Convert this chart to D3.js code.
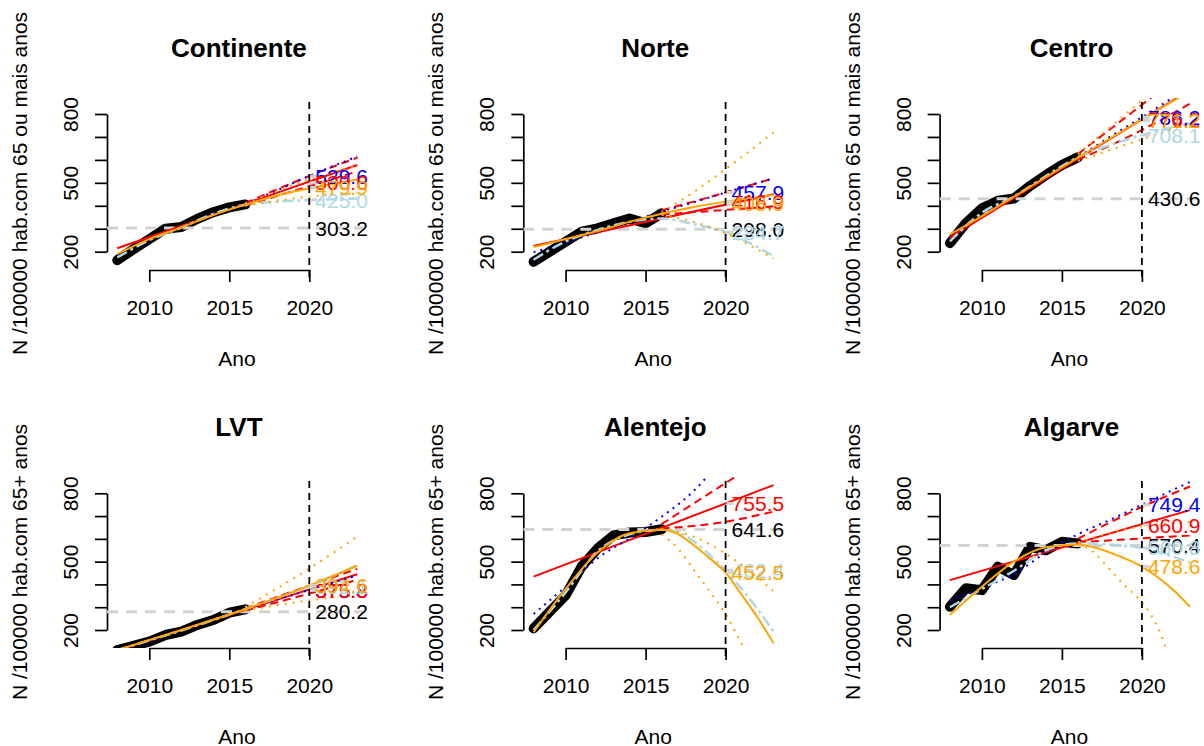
<!DOCTYPE html>
<html><head><meta charset="utf-8">
<script src="https://cdn.jsdelivr.net/npm/d3@7"></script>
<style>
body{margin:0;background:#fff}
text{font-family:"Liberation Sans",Arial,Helvetica,sans-serif;fill:#000}
</style>
</head><body>
<svg id="c" width="1204" height="746"></svg>
<script>
// ---------------- data ----------------
const panelNames = ["Continente", "Norte", "Centro", "LVT", "Alentejo", "Algarve"];
const yLabels = ["N /100000 hab.com 65 ou mais anos", "N /100000 hab.com 65+ anos"];
const xTicks = [2010, 2015, 2020];
const yTicks = [200, 300, 400, 500, 600, 700, 800];
const yTickLabels = [200, 500, 800];
const years = [2008, 2009, 2010, 2011, 2012, 2013, 2014, 2015, 2016];
const observed = [
  [163, 210, 255, 300, 308, 343, 372, 393, 406],
  [156, 200, 243, 287, 302, 324, 345, 324, 367],
  [237, 324, 389, 422, 432, 486, 534, 578, 611],
  [112, 130, 149, 178, 193, 222, 244, 276, 291],
  [207, 280, 352, 478, 558, 615, 628, 630, 642],
  [302, 383, 375, 478, 441, 565, 550, 587, 580]
];
const refValues = [303.2, 298.0, 430.6, 280.2, 641.6, 570.4];
const linearFit = [
  [[2008, 215], [2023, 578]],
  [[2008, 225], [2023, 450]],
  [[2008, 262], [2023, 905]],
  [[2008, 110], [2023, 445]],
  [[2008, 434], [2023, 836]],
  [[2008, 419], [2023, 726]]
];
const linearUpper = [
  [[2016, 412], [2020, 530], [2023, 610]],
  [[2016, 380], [2020, 458], [2023, 520]],
  [[2016, 625], [2020, 840], [2023, 1000]],
  [[2016, 295], [2020, 395], [2023, 468]],
  [[2016, 665], [2020, 845], [2023, 980]],
  [[2016, 600], [2020, 740], [2023, 830]]
];
const linearLower = [
  [[2016, 402], [2020, 485], [2023, 550]],
  [[2016, 362], [2020, 382], [2023, 398]],
  [[2016, 600], [2020, 730], [2023, 845]],
  [[2016, 285], [2020, 360], [2023, 420]],
  [[2016, 645], [2020, 675], [2023, 720]],
  [[2016, 585], [2020, 602], [2023, 615]]
];
const blueModel = [
  [[2008, 185], [2010, 250], [2012, 305], [2014, 365], [2016, 410], [2018, 468], [2020, 530], [2023, 615]],
  [[2008, 198], [2010, 240], [2012, 285], [2014, 330], [2016, 375], [2018, 415], [2020, 458], [2023, 520]],
  [[2008, 250], [2010, 360], [2012, 440], [2014, 525], [2016, 612], [2018, 700], [2020, 786], [2023, 920]],
  [[2008, 108], [2012, 195], [2016, 290], [2020, 376], [2023, 440]],
  [[2008, 270], [2010, 390], [2012, 515], [2014, 602], [2016, 697], [2018, 810], [2019, 885]],
  [[2008, 330], [2010, 385], [2012, 445], [2014, 540], [2016, 620], [2018, 683], [2020, 750], [2023, 850]]
];
const lightblueModel = [
  [[2008, 175], [2010, 250], [2012, 305], [2014, 365], [2016, 405], [2018, 418], [2020, 425], [2023, 432]],
  [[2008, 165], [2010, 245], [2012, 295], [2014, 330], [2016, 345], [2018, 320], [2020, 285], [2023, 180]],
  [[2008, 245], [2010, 370], [2012, 440], [2014, 530], [2016, 612], [2018, 665], [2020, 708], [2023, 760]],
  [[2008, 112], [2012, 198], [2016, 292], [2020, 393], [2023, 485]],
  [[2008, 200], [2010, 365], [2012, 545], [2014, 620], [2016, 640], [2017, 630], [2018, 590], [2019, 530], [2020, 462], [2021, 380], [2022, 292], [2023, 193]],
  [[2008, 300], [2010, 380], [2012, 460], [2014, 550], [2016, 580], [2018, 575], [2020, 560], [2023, 495]]
];
const quadFit = [
  [[2008, 190], [2010, 255], [2012, 305], [2014, 360], [2016, 405], [2018, 445], [2020, 476], [2023, 515]],
  [[2008, 220], [2010, 255], [2012, 290], [2014, 330], [2016, 365], [2018, 395], [2020, 418], [2023, 447]],
  [[2008, 275], [2010, 355], [2012, 440], [2014, 525], [2016, 610], [2018, 693], [2020, 777], [2023, 900]],
  [[2008, 112], [2012, 200], [2016, 292], [2020, 395], [2023, 482]],
  [[2008, 190], [2010, 380], [2012, 540], [2014, 625], [2016, 640], [2017, 622], [2018, 573], [2019, 515], [2020, 452], [2021, 355], [2022, 255], [2023, 142]],
  [[2008, 266], [2010, 390], [2012, 500], [2014, 563], [2016, 575], [2017, 563], [2018, 540], [2020, 478], [2022, 373], [2023, 302]]
];
const quadUpper = [
  [[2016, 410], [2020, 515], [2023, 575]],
  [[2016, 370], [2018, 460], [2020, 560], [2023, 720]],
  [[2016, 625], [2020, 860], [2023, 1040]],
  [[2016, 300], [2020, 470], [2023, 610]],
  [[2016, 645], [2018, 610], [2020, 535], [2022, 430], [2023, 370]],
  [[2016, 585], [2018, 625], [2020, 655], [2023, 675]]
];
const quadLower = [
  [[2016, 400], [2020, 440], [2023, 455]],
  [[2016, 360], [2018, 330], [2020, 280], [2023, 170]],
  [[2016, 595], [2020, 690], [2023, 760]],
  [[2016, 285], [2020, 330], [2023, 355]],
  [[2016, 620], [2017, 560], [2018, 465], [2019, 370], [2020, 270], [2021, 140], [2021.4, 90]],
  [[2016, 580], [2017, 540], [2018, 465], [2019, 390], [2020, 322], [2021, 210], [2021.5, 120]]
];
const labelBlue = ["529.6", "457.9", "786.2", "375.8", null, "749.4"];
const labelRed = ["500.6", "416.9", "776.2", "375.3", "755.5", "660.9"];
const labelLightblue = ["425.0", "284.7", "708.1", "392.1", "462.4", "560.8"];
const labelOrange = ["479.9", "408.9", "771.2", "394.6", "452.5", "478.6"];

// ---------------- drawing ----------------
const svg = d3.select("#c");
const colW = 416.3, rowH = 379;
const COL = {red: "#FF0000", blue: "#0000FF", orange: "#FFA500", lightblue: "#ADD8E6", gray: "#D3D3D3"};

panelNames.forEach((name, i) => {
  const c = i % 3, r = Math.floor(i / 3);
  const dx = c * colW;
  const x = d3.scaleLinear().domain([2010, 2020]).range([149.3 + dx, 309.3 + dx]);
  const y = r === 0
    ? d3.scaleLinear().domain([200, 800]).range([251.7, 114])
    : d3.scaleLinear().domain([200, 800]).range([630, 493.3]);
  const plotLeft = 107 + dx, plotRight = x(2023.6);
  const plotTop = 98 + rowH * r, axisY = r === 0 ? 270 : 648;
  const g = svg.append("g");

  const clipId = "clip" + i;
  svg.append("clipPath").attr("id", clipId).append("rect")
    .attr("x", plotLeft).attr("y", plotTop)
    .attr("width", plotRight - plotLeft).attr("height", axisY - plotTop);

  // title
  g.append("text").attr("x", (plotLeft + plotRight) / 2 + 2).attr("y", 57.3 + rowH * r)
    .attr("text-anchor", "middle").attr("font-size", 26).attr("font-weight", "bold").text(name);

  // y label
  const ylx = 27 + dx, yly = (plotTop + axisY) / 2 - 0.5;
  g.append("text").attr("transform", `translate(${ylx},${yly}) rotate(-90)`)
    .attr("text-anchor", "middle").attr("font-size", 21).text(yLabels[r]);

  // x label
  g.append("text").attr("x", (plotLeft + plotRight) / 2).attr("y", axisY + 95.5)
    .attr("text-anchor", "middle").attr("font-size", 21).text("Ano");

  // y axis
  const ya = g.append("g").attr("transform", `translate(${plotLeft},0)`)
    .call(d3.axisLeft(y).tickValues(yTicks).tickSize(12).tickSizeOuter(0)
      .tickFormat(d => yTickLabels.includes(d) ? d : ""));
  ya.selectAll("path,line").attr("stroke", "#000").attr("stroke-width", 1.7);
  ya.selectAll("text").attr("transform", "rotate(-90)").attr("x", 0).attr("y", -29)
    .attr("dy", 0).attr("text-anchor", "middle").attr("font-size", 21).attr("fill", "#000")
    .attr("font-family", '"Liberation Sans",Arial,sans-serif');

  // x axis
  const xa = g.append("g").attr("transform", `translate(0,${axisY})`)
    .call(d3.axisBottom(x).tickValues(xTicks).tickSize(12).tickSizeOuter(0).tickFormat(d3.format("d")));
  xa.selectAll("path,line").attr("stroke", "#000").attr("stroke-width", 1.7);
  xa.selectAll("text").attr("y", 45).attr("dy", 0).attr("font-size", 21).attr("fill", "#000")
    .attr("font-family", '"Liberation Sans",Arial,sans-serif');

  const pg = g.append("g").attr("clip-path", `url(#${clipId})`);
  const lineObs = d3.line().x((d, k) => x(years[k])).y(d => y(d));
  const linePts = d3.line().x(d => x(d[0])).y(d => y(d[1])).curve(d3.curveMonotoneX);

  // observed thick black
  pg.append("path").attr("d", lineObs(observed[i])).attr("fill", "none")
    .attr("stroke", "#000").attr("stroke-width", 10)
    .attr("stroke-linejoin", "round").attr("stroke-linecap", "round");

  // reference gray dashed line
  pg.append("line").attr("x1", plotLeft).attr("x2", plotRight)
    .attr("y1", y(refValues[i])).attr("y2", y(refValues[i]))
    .attr("stroke", COL.gray).attr("stroke-width", 3).attr("stroke-dasharray", "11,8");

  const series = [
    {d: linearFit[i], col: COL.red, dash: null, w: 2},
    {d: linearUpper[i], col: COL.red, dash: "8,5", w: 2},
    {d: linearLower[i], col: COL.red, dash: "8,5", w: 2},
    {d: blueModel[i], col: COL.blue, dash: "2,5", w: 2},
    {d: lightblueModel[i], col: COL.lightblue, dash: "11,4,3,4", w: 2.5},
    {d: quadFit[i], col: COL.orange, dash: null, w: 2},
    {d: quadUpper[i], col: COL.orange, dash: "2,6", w: 2},
    {d: quadLower[i], col: COL.orange, dash: "2,6", w: 2}
  ];
  series.forEach(s => {
    pg.append("path").attr("d", linePts(s.d)).attr("fill", "none")
      .attr("stroke", s.col).attr("stroke-width", s.w)
      .attr("stroke-dasharray", s.dash);
  });

  // vertical dashed line at 2020
  g.append("line").attr("x1", x(2020)).attr("x2", x(2020))
    .attr("y1", plotTop + 4).attr("y2", axisY + 12)
    .attr("stroke", "#000").attr("stroke-width", 1.8).attr("stroke-dasharray", "7,5");

  // labels
  const lx = x(2020) + 6;
  const labs = [
    {t: refValues[i].toFixed(1), col: "#000", mark: false},
    {t: labelBlue[i], col: COL.blue, mark: true},
    {t: labelRed[i], col: COL.red, mark: true},
    {t: labelLightblue[i], col: COL.lightblue, mark: true},
    {t: labelOrange[i], col: COL.orange, mark: true}
  ].filter(l => l.t !== null);
  labs.forEach(l => {
    if (l.mark) {
      g.append("line").attr("x1", x(2020) + 1).attr("x2", x(2020) + 8)
        .attr("y1", y(+l.t)).attr("y2", y(+l.t))
        .attr("stroke", COL.gray).attr("stroke-width", 3);
    }
  });
  labs.forEach(l => {
    g.append("text").attr("x", lx).attr("y", y(+l.t)).attr("dy", "0.36em")
      .attr("font-size", 21).style("fill", l.col).text(l.t);
  });
});
</script>
</body></html>
